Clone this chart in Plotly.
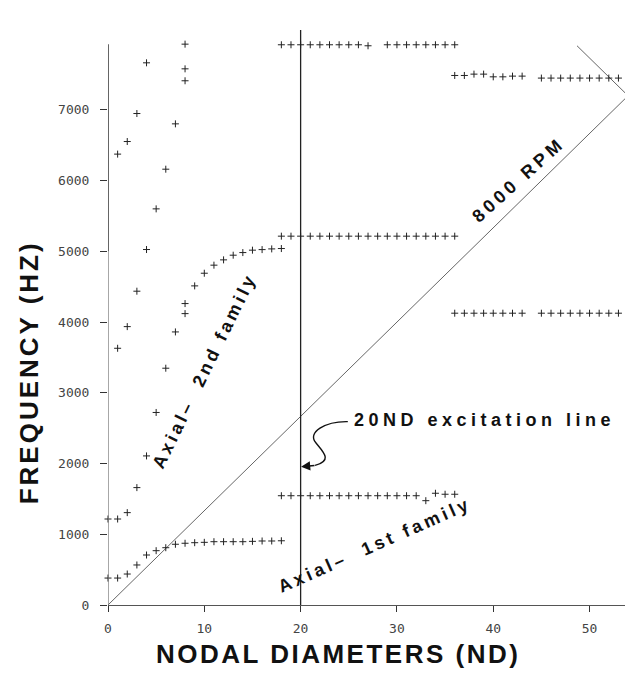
import plotly.graph_objects as go

# ---------------- data ----------------
# Axial 1st family, low branch (ND 0-18)
low_nd = [0, 1, 2, 3, 4, 5, 6, 7, 8, 9, 10, 11, 12, 13, 14, 15, 16, 17, 18]
low_hz = [381, 381, 438, 566, 707, 768, 810, 859, 873, 881, 886, 895, 895, 895, 895, 900, 905, 905, 908]

# Axial 2nd family (ND 0-18)
fam2_nd = [0, 1, 2, 3, 4, 5, 6, 7, 8, 8, 9, 10, 11, 12, 13, 14, 15, 16, 17, 18]
fam2_hz = [1216, 1216, 1306, 1660, 2108, 2722, 3348, 3861, 4120, 4262, 4512, 4691, 4805, 4880,
           4946, 4983, 5017, 5025, 5035, 5040]

# higher modes at low ND
mode3_nd = [1, 2, 3, 4, 5, 6, 7, 8, 8]
mode3_hz = [3630, 3936, 4437, 5026, 5601, 6162, 6803, 7412, 7581]
mode4_nd = [1, 2, 3, 4, 8]
mode4_hz = [6375, 6553, 6949, 7666, 7930]

# bands at high ND
band1550_nd = [18, 19, 20, 21, 22, 23, 24, 25, 26, 27, 28, 29, 30, 31, 32, 33, 34, 35, 36]
band1550_hz = [1545, 1545, 1545, 1545, 1545, 1545, 1545, 1545, 1545, 1545, 1545, 1545, 1545,
               1545, 1545, 1475, 1580, 1566, 1566]
band5215_nd = [18, 19, 20, 21, 22, 23, 24, 25, 26, 27, 28, 29, 30, 31, 32, 33, 34, 35, 36]
band5215_hz = [5215] * 19
band7920_nd = [18, 19, 20, 21, 22, 23, 24, 25, 26, 27, 29, 30, 31, 32, 33, 34, 35, 36]
band7920_hz = [7921, 7921, 7921, 7921, 7921, 7921, 7921, 7921, 7921, 7907, 7921, 7921, 7921,
               7921, 7921, 7921, 7921, 7921]
band7480_nd = [36, 37, 38, 39, 40, 41, 42, 43, 45, 46, 47, 48, 49, 50, 51, 52, 53]
band7480_hz = [7487, 7487, 7506, 7506, 7468, 7468, 7478, 7478, 7450, 7450, 7450, 7450, 7450,
               7450, 7450, 7450, 7450]
band4125_nd = [36, 37, 38, 39, 40, 41, 42, 43, 45, 46, 47, 48, 49, 50, 51, 52, 53]
band4125_hz = [4126] * 17

# 8000 RPM excitation line (with reflection at ND 54)
rpm_nd = [0, 54, 48.7]
rpm_hz = [0, 7200, 7907]

x_ticks = [0, 10, 20, 30, 40, 50]
y_ticks = [0, 1000, 2000, 3000, 4000, 5000, 6000, 7000]

# ---------------- figure ----------------
fig = go.Figure()

fig.add_trace(go.Scatter(x=rpm_nd, y=rpm_hz, mode="lines",
                         line=dict(color="#666666", width=1), hoverinfo="skip"))

groups = [(low_nd, low_hz), (fam2_nd, fam2_hz), (mode3_nd, mode3_hz), (mode4_nd, mode4_hz),
          (band1550_nd, band1550_hz), (band5215_nd, band5215_hz), (band7920_nd, band7920_hz),
          (band7480_nd, band7480_hz), (band4125_nd, band4125_hz)]
for gx, gy in groups:
    fig.add_trace(go.Scatter(x=gx, y=gy, mode="markers", cliponaxis=False,
                             marker=dict(symbol="cross-thin", size=5, color="#222",
                                         line=dict(color="#222", width=1))))

shapes = [
    # 20 ND excitation line
    dict(type="line", xref="x", yref="y", x0=20, x1=20, y0=0, y1=8130,
         line=dict(color="#222", width=1.3)),
    # y axis line (two tones like the scan)
    dict(type="line", xref="x", yref="y", x0=0, x1=0, y0=0, y1=5000,
         line=dict(color="#777", width=1.3)),
    dict(type="line", xref="x", yref="y", x0=0, x1=0, y0=5000, y1=7930,
         line=dict(color="#111", width=1.3)),
    # curly arrow body
    dict(type="path", xref="x", yref="y",
         path="M 24.9,2593 C 22.6,2600 20.6,2440 21.6,2290 C 22.3,2170 23.4,2040 21.5,1975",
         line=dict(color="#111", width=1.4)),
]

ann_font = dict(family="Liberation Sans", size=18, color="#111", weight="bold")
title_font = dict(family="Liberation Sans", size=26, color="#111", weight="bold")
annotations = [
    dict(x=20.05, y=1956, ax=21.6, ay=1975, axref="x", ayref="y", xref="x", yref="y",
         text="", showarrow=True, arrowhead=2, arrowsize=1.3, arrowwidth=1.4, arrowcolor="#111"),
    dict(x=39.1, y=2617, xref="x", yref="y", showarrow=False, xanchor="center", yanchor="middle",
         text='<span style="letter-spacing:4.5px">20ND excitation line</span>', font=ann_font),
    dict(x=42.6, y=6011, xref="x", yref="y", showarrow=False, textangle=-42,
         xanchor="center", yanchor="middle",
         text='<span style="letter-spacing:4px">8000 RPM</span>', font=ann_font),
    dict(x=10.0, y=3310, xref="x", yref="y", showarrow=False, textangle=-64,
         xanchor="center", yanchor="middle",
         text='<span style="letter-spacing:3.5px">Axial\u2013  2nd family</span>', font=ann_font),
    dict(x=27.7, y=849, xref="x", yref="y", showarrow=False, textangle=-24,
         xanchor="center", yanchor="middle",
         text='<span style="letter-spacing:3.5px">Axial\u2013  1st family</span>', font=ann_font),
    dict(x=-0.151, y=0.405, xref="paper", yref="paper", showarrow=False, textangle=-90,
         xanchor="center", yanchor="middle",
         text='<span style="letter-spacing:3px">FREQUENCY (HZ)</span>', font=title_font),
    dict(x=0.441, y=-0.0855, xref="paper", yref="paper", showarrow=False,
         xanchor="center", yanchor="middle",
         text='<span style="letter-spacing:2.5px">NODAL DIAMETERS (ND)</span>', font=title_font),
]

tick_font = dict(family="DejaVu Sans Mono", size=13, color="#444")
fig.update_layout(
    width=625, height=665,
    margin=dict(l=100, r=3, t=22, b=68),
    paper_bgcolor="white", plot_bgcolor="white",
    showlegend=False,
    shapes=shapes, annotations=annotations,
    xaxis=dict(range=[0, 54.2], tickvals=x_ticks, ticks="outside", ticklen=6, tickcolor="#333",
               showline=True, linecolor="#555", linewidth=1.2, showgrid=False, zeroline=False,
               tickfont=tick_font, ticklabelstandoff=5),
    yaxis=dict(range=[0, 8130], tickvals=y_ticks, ticks="outside", ticklen=7, tickcolor="#333",
               showline=False, showgrid=False, zeroline=False,
               tickfont=tick_font, ticklabelstandoff=8),
)

fig.write_html("out.html")
